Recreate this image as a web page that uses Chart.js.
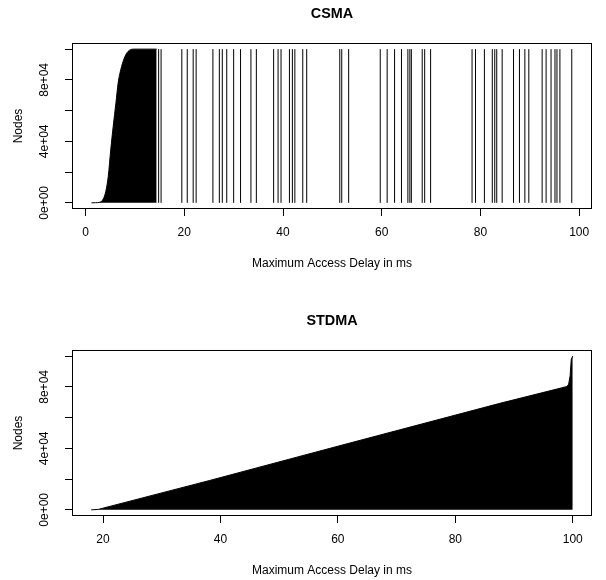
<!DOCTYPE html>
<html><head><meta charset="utf-8">
<script src="https://cdn.jsdelivr.net/npm/chart.js@4.4.1/dist/chart.umd.min.js"></script>
<style>
html,body{margin:0;padding:0;background:#fff;overflow:hidden;width:606px;height:580px}
.panel{position:absolute;left:0;width:606px;height:273px}
</style></head><body>
<div class="panel" style="top:0"><canvas id="c1" width="606" height="273"></canvas></div>
<div class="panel" style="top:307px"><canvas id="c2" width="606" height="273"></canvas></div>
<script>
// ---- data ----
const csmaCurveX = [1.2, 2.0, 2.9, 3.6, 4.1, 4.6, 5.1, 5.6, 6.15, 6.6, 7.3, 8.0, 8.6, 9.7, 14.4];
const csmaCurveY = [0, 100, 400, 2600, 7500, 17300, 34600, 49800, 65000, 78000, 88700, 95300, 98500, 100000, 100000];
const csmaOutlierX = [14.8, 15.3, 19.5, 20.6, 21.8, 22.4, 25.8, 27.1, 27.7, 28.6, 30.0, 31.4, 33.5, 34.6,
  38.1, 39.0, 39.6, 41.3, 41.9, 42.4, 44.0, 44.8, 51.5, 51.9, 53.3, 59.7, 61.1, 62.6, 64.0, 65.3, 65.7,
  66.0, 68.2, 68.7, 69.9, 78.3, 79.0, 80.8, 82.4, 82.9, 83.3, 84.4, 86.7, 87.9, 89.0, 89.8, 92.5, 93.3,
  94.3, 95.1, 95.5, 96.1, 98.5];
const csmaOutlierY = [100000, 100000, 100000, 100000, 100000, 100000, 100000, 100000, 100000, 100000,
  100000, 100000, 100000, 100000, 100000, 100000, 100000, 100000, 100000, 100000, 100000, 100000,
  100000, 100000, 100000, 100000, 100000, 100000, 100000, 100000, 100000, 100000, 100000, 100000,
  100000, 100000, 100000, 100000, 100000, 100000, 100000, 100000, 100000, 100000, 100000, 100000,
  100000, 100000, 100000, 100000, 100000, 100000, 100000];
const stdmaX = [18.0, 19.2, 38.2, 60.0, 87.6, 99.0, 99.3, 99.55, 99.75, 100.0];
const stdmaY = [0, 300, 19150, 41400, 69300, 80200, 81700, 87100, 98000, 100000];
const csmaXTicks = [0, 20, 40, 60, 80, 100];
const stdmaXTicks = [20, 40, 60, 80, 100];
const yTicks = [0, 20000, 40000, 60000, 80000, 100000];
const yTickLabels = ["0e+00", "", "4e+04", "", "8e+04", ""];
const xTitle = "Maximum Access Delay in ms";
const yTitle = "Nodes";

Chart.defaults.font.family = "'Liberation Sans', Arial, Helvetica, sans-serif";
Chart.defaults.font.size = 12;
Chart.defaults.color = '#000';

const boxPlugin = {
  id: 'rbox',
  afterDraw(chart) {
    const {ctx, chartArea: a} = chart;
    ctx.save();
    ctx.strokeStyle = '#000';
    ctx.lineWidth = 1;
    ctx.strokeRect(Math.round(a.left) + 0.5, Math.round(a.top) + 0.5,
      Math.round(a.right - a.left) - 1, Math.round(a.bottom - a.top) - 1);
    ctx.restore();
  }
};

function areaDataset(xs, ys, smooth) {
  const ds = {
    data: xs.map((x, i) => ({x: x, y: ys[i]})),
    fill: 'origin', backgroundColor: '#000', borderColor: '#000', borderWidth: 1,
    pointRadius: 0, tension: 0
  };
  if (smooth) ds.cubicInterpolationMode = 'monotone';
  return ds;
}
function spikeDataset(xs, ys) {
  const d = [];
  xs.forEach((x, i) => { d.push({x: x, y: 0}); d.push({x: x, y: ys[i]}); d.push({x: x, y: null}); });
  return { data: d, fill: false, borderColor: '#000', borderWidth: 1, pointRadius: 0, spanGaps: false, tension: 0 };
}

function makeChart(id, title, datasets, xMin, xMax, xTicks) {
  const gridOpts = { display: true, drawOnChartArea: false, drawTicks: true, tickLength: 7, color: '#000', lineWidth: 1 };
  return new Chart(document.getElementById(id), {
    type: 'line',
    data: { datasets: datasets },
    options: {
      responsive: false, animation: false, events: [],
      layout: { padding: { left: 0, right: 14, top: 0, bottom: 0 } },
      plugins: {
        legend: { display: false }, tooltip: { enabled: false },
        title: { display: true, text: title, fullSize: false, color: '#000',
          font: { size: 14.4, weight: 'bold' }, padding: { top: 4.9, bottom: 20.8 } }
      },
      scales: {
        x: {
          type: 'linear', position: 'bottom', min: xMin, max: xMax,
          afterBuildTicks: s => { s.ticks = xTicks.map(v => ({value: v})); },
          afterFit: s => { s.height = 64; },
          grid: gridOpts, border: { display: false },
          ticks: { padding: 9, color: '#000', maxRotation: 0, autoSkip: false, callback: v => String(v) },
          title: { display: true, text: xTitle, color: '#000', padding: { top: 0, bottom: 2.3 } }
        },
        y: {
          type: 'linear', position: 'left', min: -4000, max: 104000,
          afterBuildTicks: s => { s.ticks = yTicks.map(v => ({value: v})); },
          afterFit: s => { s.width = 72; },
          grid: gridOpts, border: { display: false },
          ticks: { padding: 3.5, color: '#000', minRotation: 90, maxRotation: 90, crossAlign: 'center',
            autoSkip: false, callback: (v, i) => yTickLabels[i] },
          title: { display: true, text: yTitle, color: '#000', padding: { top: 11.8, bottom: 0 } }
        }
      }
    },
    plugins: [boxPlugin]
  });
}

makeChart('c1', 'CSMA', [areaDataset(csmaCurveX, csmaCurveY, true), spikeDataset(csmaOutlierX, csmaOutlierY)],
  -2.75, 102.6, csmaXTicks);
makeChart('c2', 'STDMA', [areaDataset(stdmaX, stdmaY, false)], 14.72, 103.28, stdmaXTicks);
</script>
</body></html>
